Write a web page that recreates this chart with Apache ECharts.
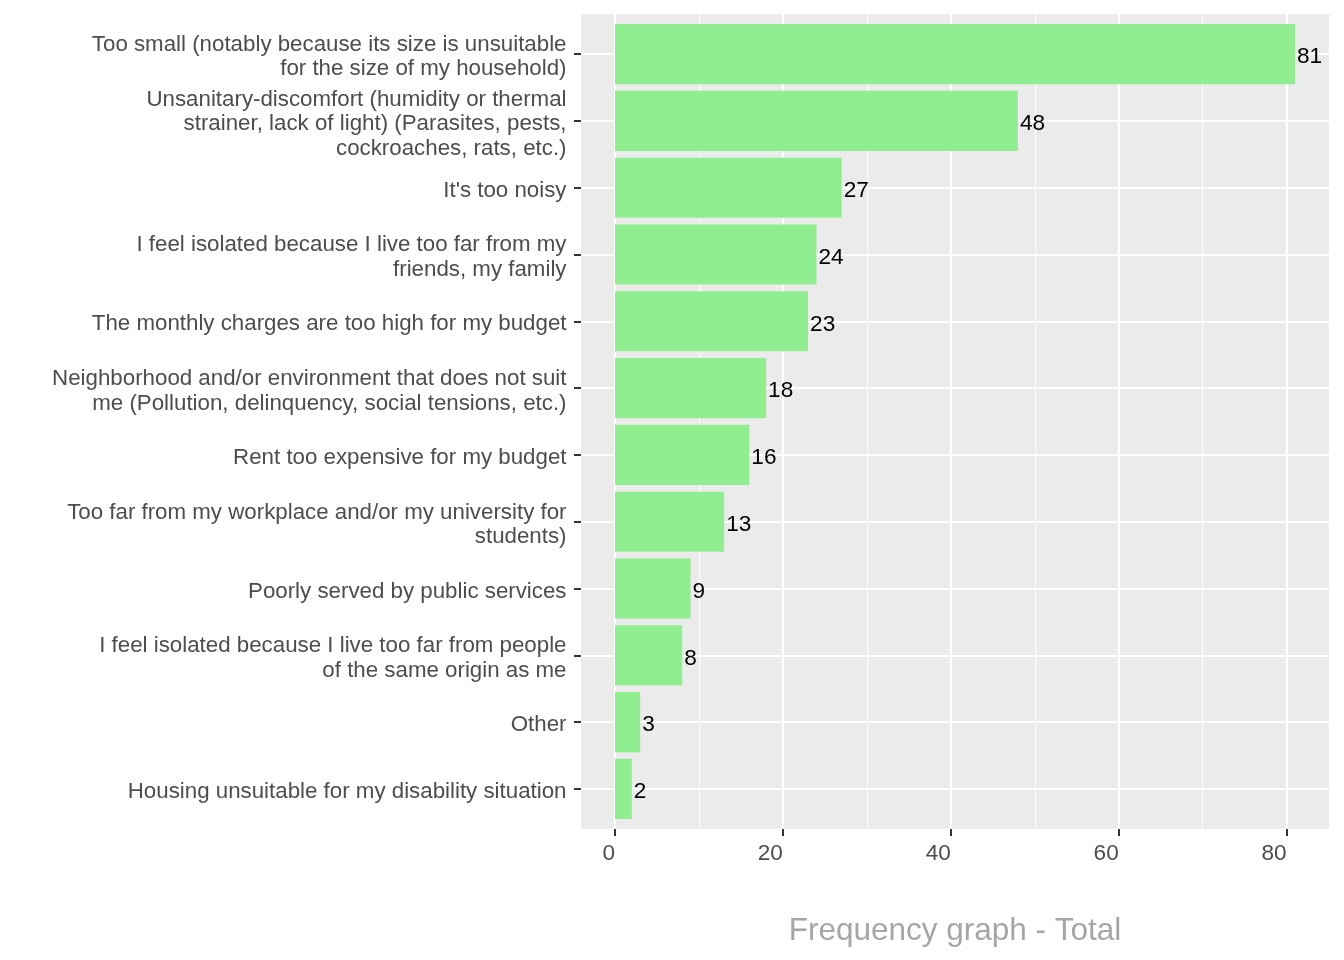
<!DOCTYPE html>
<html>
<head>
<meta charset="utf-8">
<script src="https://cdn.jsdelivr.net/npm/echarts@6/dist/echarts.min.js"></script>
<style>
html, body { margin: 0; padding: 0; background: #ffffff; }
#chart { width: 1344px; height: 960px; }
</style>
</head>
<body>
<div id="chart"></div>
<script>
// ---- data ----
const categories = [
  'Too small (notably because its size is unsuitable\nfor the size of my household)',
  'Unsanitary-discomfort (humidity or thermal\nstrainer, lack of light) (Parasites, pests,\ncockroaches, rats, etc.)',
  "It's too noisy",
  'I feel isolated because I live too far from my\nfriends, my family',
  'The monthly charges are too high for my budget',
  'Neighborhood and/or environment that does not suit\nme (Pollution, delinquency, social tensions, etc.)',
  'Rent too expensive for my budget',
  'Too far from my workplace and/or my university for\nstudents)',
  'Poorly served by public services',
  'I feel isolated because I live too far from people\nof the same origin as me',
  'Other',
  'Housing unsuitable for my disability situation'
];
const values = [81, 48, 27, 24, 23, 18, 16, 13, 9, 8, 3, 2];
const positions = [1, 2, 3, 4, 5, 6, 7, 8, 9, 10, 11, 12];
const xTicks = [0, 20, 40, 60, 80];
const xMinorTicks = [10, 30, 50, 70];
const xTitle = 'Frequency graph - Total';

// ---- chart ----
const FONT = '"Liberation Sans", Arial, sans-serif';
const chart = echarts.init(document.getElementById('chart'), null, { renderer: 'canvas' });

const seriesData = values.map((v, i) => [v, positions[i]]);
// small downward nudge of the category text relative to its tick (font baseline compensation)
const LABEL_NUDGE = 0.045;
const labelValues = positions.map((p) => p + LABEL_NUDGE);

const option = {
  animation: false,
  backgroundColor: '#ffffff',
  grid: {
    left: 581, right: 15, top: 14, bottom: 131,
    show: true, backgroundColor: '#EBEBEB', borderWidth: 0,
    containLabel: false, outerBoundsMode: 'none'
  },
  xAxis: [
    {
      type: 'value', min: -4.05, max: 85.05, position: 'bottom',
      axisLine: { show: false, onZero: false },
      axisTick: { show: true, customValues: xTicks, length: 7, lineStyle: { color: '#333333', width: 2 } },
      axisLabel: {
        show: true, customValues: xTicks, align: 'right', margin: 13,
        showMinLabel: true, showMaxLabel: true, hideOverlap: false,
        color: '#4D4D4D', fontSize: 22.6, fontFamily: FONT
      },
      splitLine: { show: true, lineStyle: { color: '#ffffff', width: 2 } },
      name: xTitle, nameLocation: 'middle', nameGap: 86,
      nameTextStyle: { color: '#A6A6A6', fontSize: 31.5, fontFamily: FONT }
    },
    {
      type: 'value', min: -4.05, max: 85.05, position: 'bottom',
      axisLine: { show: false, onZero: false },
      axisTick: { show: false, customValues: xMinorTicks },
      axisLabel: { show: false, customValues: xMinorTicks },
      splitLine: { show: true, lineStyle: { color: '#ffffff', width: 1 } }
    }
  ],
  yAxis: {
    type: 'value', min: 0.4, max: 12.6, inverse: true,
    axisLine: { show: false, onZero: false },
    axisTick: { show: true, customValues: positions, length: 7, lineStyle: { color: '#333333', width: 2 } },
    axisLabel: {
      show: true, customValues: labelValues, margin: 14.5, align: 'right',
      showMinLabel: true, showMaxLabel: true, hideOverlap: false,
      formatter: (v) => categories[Math.round(v) - 1] || '',
      color: '#4D4D4D', fontSize: 22.3, lineHeight: 24.5, fontFamily: FONT
    },
    splitLine: { show: true, lineStyle: { color: '#ffffff', width: 2 } }
  },
  series: [
    {
      type: 'custom',
      xAxisIndex: 0, yAxisIndex: 0,
      data: seriesData,
      encode: { x: 0, y: 1 },
      z: 3,
      renderItem: function (params, api) {
        const v = api.value(0);
        const p = api.value(1);
        const start = api.coord([0, p]);
        const end = api.coord([v, p]);
        const h = Math.abs(api.size([0, 0.9])[1]);
        return {
          type: 'group',
          children: [
            {
              type: 'rect',
              shape: { x: start[0], y: start[1] - h / 2, width: end[0] - start[0], height: h },
              style: { fill: '#90EE90' }
            },
            {
              type: 'text',
              x: end[0] + 2, y: end[1] + 3,
              style: {
                text: String(v), fill: '#000000',
                fontSize: 22.6, fontFamily: FONT,
                align: 'left', verticalAlign: 'middle'
              }
            }
          ]
        };
      }
    }
  ]
};
chart.setOption(option);
</script>
</body>
</html>
